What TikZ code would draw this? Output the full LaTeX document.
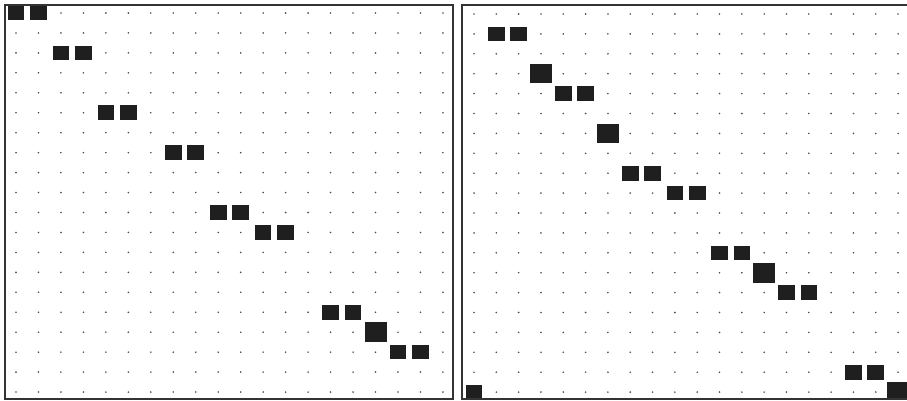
\documentclass[tikz,border=0pt]{standalone}
\begin{document}
\begin{tikzpicture}[x=1pt,y=-1pt,
    punto/.style={fill=black!70},
    bloque/.style={fill=black!88},
    marco/.style={draw=black!80,line width=1.2pt}]
  \useasboundingbox (0,0) rectangle (907,401);
  % Semi-tamaños de los bloques
  \def\sw{8.3}  \def\sh{7.3}   % bloque pequeño
  \def\bw{11}   \def\bh{9.8}   % bloque grande

  % Panel izquierdo: origen y paso de la rejilla 20x20
  \def\xo{16} \def\yo{13} \def\dx{22.47} \def\dy{19.95}
  \begin{scope}
    \clip (5,5) rectangle (453,399);
    % Puntos de la rejilla
    \foreach \i in {0,...,19}
      \foreach \j in {0,...,19}
        \fill[punto] ({\xo+\j*\dx},{\yo+\i*\dy}) circle (0.9pt);
    % Bloques pequeños (fila/columna)
    \foreach \i/\j in {0/0,0/1,2/2,2/3,5/4,5/5,7/7,7/8,10/9,10/10,
                       11/11,11/12,15/14,15/15,17/17,17/18}
      \fill[bloque] ({\xo+\j*\dx-\sw},{\yo+\i*\dy-\sh}) rectangle ++({2*\sw},{2*\sh});
    % Bloque grande en la diagonal
    \foreach \i/\j in {16/16}
      \fill[bloque] ({\xo+\j*\dx-\bw},{\yo+\i*\dy-\bh}) rectangle ++({2*\bw},{2*\bh});
  \end{scope}
  \draw[marco] (5,5) rectangle (453,399);

  % Panel derecho (su borde derecho queda fuera de la imagen)
  \def\xo{474} \def\yo{14} \def\dx{22.32} \def\dy{19.9}
  \begin{scope}
    \clip (462,5) rectangle (910,399);
    % Puntos de la rejilla
    \foreach \i in {0,...,19}
      \foreach \j in {0,...,19}
        \fill[punto] ({\xo+\j*\dx},{\yo+\i*\dy}) circle (0.9pt);
    % Bloques pequeños
    \foreach \i/\j in {1/1,1/2,4/4,4/5,8/7,8/8,9/9,9/10,12/11,12/12,
                       14/14,14/15,18/17,18/18,19/0}
      \fill[bloque] ({\xo+\j*\dx-\sw},{\yo+\i*\dy-\sh}) rectangle ++({2*\sw},{2*\sh});
    % Bloques grandes
    \foreach \i/\j in {3/3,6/6,13/13,19/19}
      \fill[bloque] ({\xo+\j*\dx-\bw},{\yo+\i*\dy-\bh}) rectangle ++({2*\bw},{2*\bh});
  \end{scope}
  \draw[marco] (462,5) rectangle (910,399);
\end{tikzpicture}
\end{document}
